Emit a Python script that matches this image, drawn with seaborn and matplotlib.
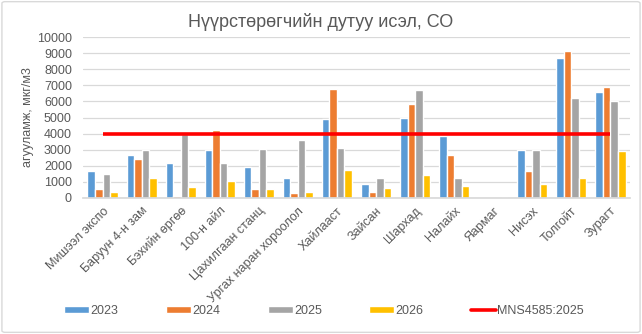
import matplotlib
matplotlib.use("Agg")
import matplotlib.pyplot as plt
import seaborn as sns
import pandas as pd
from matplotlib.patches import Patch, FancyBboxPatch
from matplotlib.lines import Line2D

categories = ["Мишээл экспо", "Баруун 4-н зам", "Бэхийн өргөө", "100-н айл",
              "Цахилгаан станц", "Ургах наран хороолол", "Хайлааст", "Зайсан",
              "Шархад", "Налайх", "Яармаг", "Нисэх", "Толгойт", "Зурагт"]
years = ["2023", "2024", "2025", "2026"]
v2023 = [1650, 2650, 2150, 3000, 1950, 1250, 4900, 900, 4950, 3850, 0, 3000, 8700, 6600]
v2024 = [570, 2400, 130, 4200, 570, 320, 6750, 400, 5850, 2650, 0, 1700, 9150, 6900]
v2025 = [1500, 3000, 3950, 2150, 3050, 3580, 3080, 1270, 6700, 1270, 0, 3000, 6200, 6000]
v2026 = [380, 1270, 700, 1080, 570, 380, 1770, 650, 1400, 770, 70, 900, 1270, 2900]
mns_label = "MNS4585:2025"
mns = [4000] * len(categories)

colors = ["#5B9BD5", "#ED7D31", "#A5A5A5", "#FFC000"]

rows = []
for y, vals in zip(years, [v2023, v2024, v2025, v2026]):
    for c, v in zip(categories, vals):
        rows.append({"cat": c, "year": y, "val": v})
df = pd.DataFrame(rows)

sns.set_theme(style="white")
plt.rcParams["font.family"] = ["Liberation Sans", "DejaVu Sans"]

fig = plt.figure(figsize=(6.42, 3.34), dpi=100)
ax = fig.add_axes([83/642, 1-198/334, (630-83)/642, (198-37)/334])

sns.barplot(data=df, x="cat", y="val", hue="year", palette=colors,
            order=categories, hue_order=years, width=0.77, gap=0,
            saturation=1, ax=ax, legend=False)
ax.plot(range(len(categories)), mns, color="#FF0000", lw=2.6, solid_capstyle="butt")

ax.set_ylim(0, 10000)
ax.set_xlim(-0.5, len(categories) - 0.5)
ax.set_yticks(range(0, 10001, 1000))
ax.yaxis.grid(True, color="#D9D9D9", lw=0.9)
ax.set_axisbelow(True)
for s in ["top", "right", "left"]:
    ax.spines[s].set_visible(False)
ax.spines["bottom"].set_color("#D9D9D9")
ax.tick_params(axis="y", length=0, labelsize=9, colors="#595959", pad=8)
ax.tick_params(axis="x", length=0, labelsize=9, colors="#595959", pad=5)
ax.set_xticks(range(len(categories)))
ax.set_xticklabels(categories, rotation=45, ha="right", rotation_mode="anchor")
ax.set_xlabel("")
ax.set_ylabel("агууламж, мкг/м3", fontsize=9, color="#595959", labelpad=2)

fig.text(0.5, 1-22/334, "Нүүрстөрөгчийн дутуу исэл, СО", ha="center", va="center",
         fontsize=13, color="#595959")

handles = [Patch(facecolor=c, label=y) for c, y in zip(colors, years)]
handles.append(Line2D([0], [0], color="#FF0000", lw=2.6, label=mns_label))
fig.legend(handles=handles, loc="center", bbox_to_anchor=(0.505, 1-311/334),
           ncol=5, frameon=False, fontsize=9, labelcolor="#595959",
           handlelength=2.0, handleheight=0.5, handletextpad=0.1, columnspacing=3.8)

border = FancyBboxPatch((0.003, 0.005), 0.994, 0.99, boxstyle="round,pad=0,rounding_size=0.005",
                        transform=fig.transFigure, fill=False, edgecolor="#D9D9D9", lw=1)
fig.patches.append(border)

fig.savefig("out.png", dpi=100, facecolor="white")
